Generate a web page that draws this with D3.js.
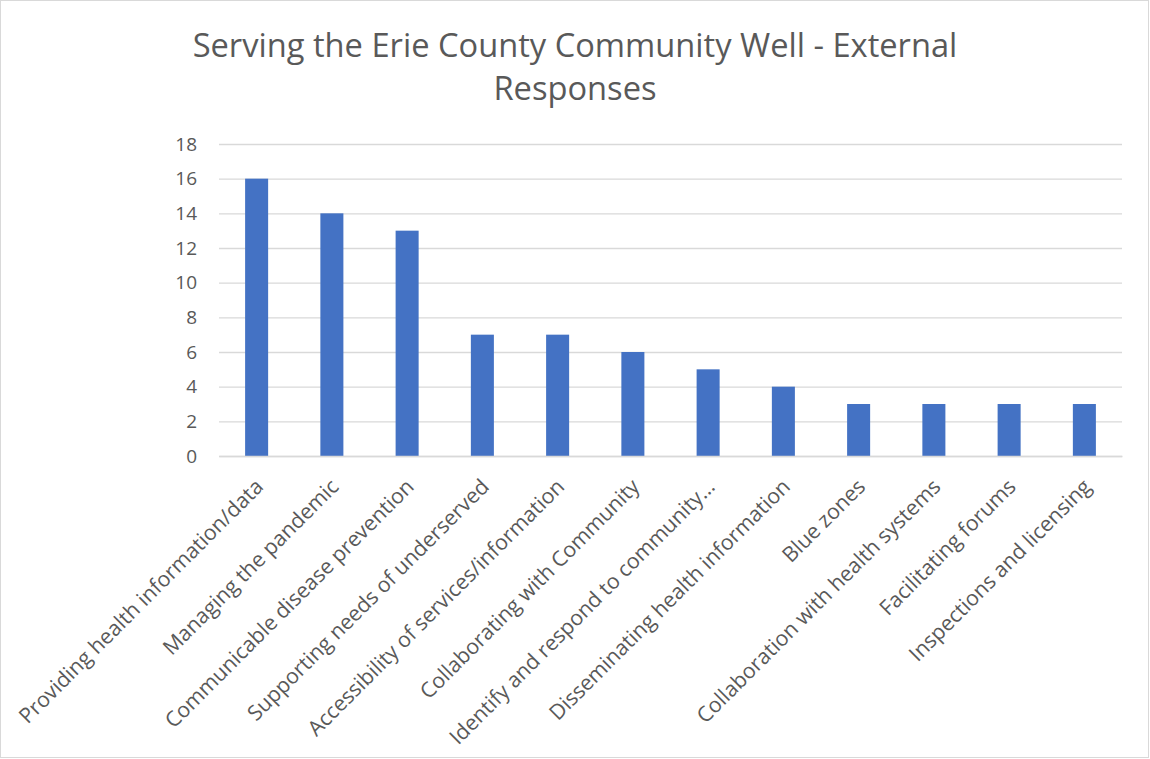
<!DOCTYPE html>
<html>
<head>
<meta charset="utf-8">
<script src="https://cdn.jsdelivr.net/npm/d3@7"></script>
<style>
  html, body { margin: 0; padding: 0; background: #fff; }
  svg { display: block; }
  text { font-family: "Open Sans", "Noto Sans", sans-serif; fill: #595959; }
</style>
</head>
<body>
<svg id="chart" width="1150" height="759"></svg>
<script>
// Survey categories and their response counts
const categories = [
  "Providing health information/data",
  "Managing the pandemic",
  "Communicable disease prevention",
  "Supporting needs of underserved",
  "Accessibility of services/information",
  "Collaborating with Community",
  "Identify and respond to community\u2026",
  "Disseminating health information",
  "Blue zones",
  "Collaboration with health systems",
  "Facilitating forums",
  "Inspections and licensing"
];
const responses = [16, 14, 13, 7, 7, 6, 5, 4, 3, 3, 3, 3];
const yTicks = [0, 2, 4, 6, 8, 10, 12, 14, 16, 18];
const titleLines = ["Serving the Erie County Community Well - External", "Responses"];

const W = 1150, H = 759;
const plot = { left: 219, right: 1122, top: 144, bottom: 456 };

const svg = d3.select("#chart");

// outer chart frame
svg.append("rect")
  .attr("x", 0.5).attr("y", 0.5)
  .attr("width", W - 2).attr("height", H - 2)
  .attr("fill", "#fff").attr("stroke", "#d9d9d9").attr("stroke-width", 1);

// title, sized so the first line spans ~765px
const title = svg.append("text")
  .attr("text-anchor", "middle")
  .style("font-size", "32px");
titleLines.forEach((line, i) => {
  title.append("tspan")
    .attr("x", 575)
    .attr("y", 57 + i * 43)
    .text(line);
});
{
  const first = title.select("tspan").node();
  const len = first.getComputedTextLength();
  title.style("font-size", (32 * 765 / len).toFixed(2) + "px");
}

const x = d3.scaleBand()
  .domain(categories)
  .range([plot.left, plot.right])
  .paddingInner(0.694)
  .paddingOuter(0.347);

const y = d3.scaleLinear()
  .domain([0, 18])
  .range([plot.bottom, plot.top]);

// horizontal gridlines + y labels
const yAxis = d3.axisLeft(y)
  .tickValues(yTicks)
  .tickSize(-(plot.right - plot.left))
  .tickPadding(22)
  .tickFormat(d3.format("d"));

const yg = svg.append("g")
  .attr("transform", `translate(${plot.left},0)`)
  .call(yAxis);
yg.select(".domain").remove();
yg.selectAll(".tick line").attr("stroke", "#d9d9d9").attr("stroke-width", 1.3);
yg.selectAll(".tick text")
  .style("font-size", "19px")
  .attr("fill", "#595959")
  .attr("text-anchor", "end");

// bars
svg.append("g")
  .selectAll("rect")
  .data(categories)
  .join("rect")
  .attr("x", d => x(d))
  .attr("width", x.bandwidth())
  .attr("y", (d, i) => y(responses[i]))
  .attr("height", (d, i) => y(0) - y(responses[i]))
  .attr("fill", "#4472c4");

// category axis with labels slanted at 45 degrees
const xAxis = d3.axisBottom(x).tickSize(0).tickPadding(0);
const xg = svg.append("g")
  .attr("transform", `translate(0,${plot.bottom})`)
  .call(xAxis);
xg.select(".domain").attr("stroke", "#d9d9d9").attr("stroke-width", 1.3);
const labels = xg.selectAll(".tick text")
  .style("font-size", "18px")
  .attr("fill", "#595959")
  .attr("text-anchor", "end")
  .attr("dy", 0);
{
  const len = labels.nodes()[0].getComputedTextLength();
  labels.style("font-size", (18 * 335 / len).toFixed(2) + "px");
}
labels.attr("transform", "translate(8,32) rotate(-45)");
</script>
</body>
</html>
